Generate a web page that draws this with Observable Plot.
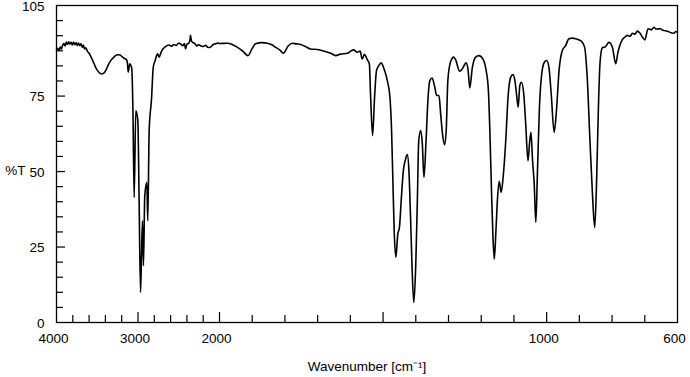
<!DOCTYPE html>
<html>
<head>
<meta charset="utf-8">
<script src="https://cdn.jsdelivr.net/npm/d3@7"></script>
<script src="https://cdn.jsdelivr.net/npm/@observablehq/plot@0.6"></script>
<style>
  html, body { margin: 0; padding: 0; background: #fff; }
  #chart { width: 690px; height: 377px; }
</style>
</head>
<body>
<div id="chart"></div>
<script>
// Wavenumber (cm-1), descending
const wavenumber = [
  4000,3985,3970,3955,3940,3925,3910,3895,3880,3865,3850,3835,3820,3805,3790,3775,3760,3745,3730,3715,
  3700,3685,3670,3655,3640,3620,3600,3570,3540,3510,3480,3450,3420,3390,3360,3330,3300,3280,3252,3220,
  3190,3169,3140,3130,3120,3101,3085,3076,3062,3047,3027,3002,2987,2969,2957,2945,2933,2917,2892,2880,
  2863,2834,2813,2789,2761,2740,2720,2700,2663,2620,2590,2561,2530,2500,2479,2450,2430,2417,2400,2377,
  2360,2356,2345,2328,2300,2280,2260,2233,2200,2170,2140,2110,2080,2049,2020,2000,1976,1960,1946,1930,
  1913,1900,1890,1870,1854,1840,1829,1815,1805,1790,1778,1765,1752,1735,1722,1700,1681,1660,1645,1630,
  1609,1599,1590,1579,1570,1564,1557,1548,1542,1538,1532,1526,1520,1513,1506,1498,1487,1479,1474,1470,
  1466,1461,1455,1450,1444,1438,1431,1426,1421,1416,1411,1406,1400,1395,1391,1385,1380,1375,1369,1363,
  1357,1350,1343,1336,1329,1324,1317,1312,1307,1302,1294,1284,1278,1266,1258,1246,1240,1235,1227,1217,
  1207,1195,1185,1178,1173,1168,1164,1160,1155,1150,1145,1139,1133,1125,1118,1110,1103,1097,1091,1087,
  1082,1077,1070,1064,1057,1052,1048,1043,1038,1033,1028,1022,1015,1007,1000,993,986,977,970,962,
  952,942,932,921,911,894,884,876,868,860,853,847,842,837,830,820,810,799,789,782,
  769,760,753,745,738,730,723,715,707,700,690,680,672,665,652,645,631,620,611,605,600
];
// Transmittance (%T)
const transmittance = [
  90.3,90.8,90.1,91.2,90.6,91.8,92.4,91.6,92.9,92.1,93.0,92.2,92.8,91.9,92.9,92.0,92.7,91.8,92.6,91.7,
  92.3,91.2,91.9,90.6,91.0,89.8,89.2,87.6,85.8,84.0,82.9,82.3,82.6,83.8,85.6,86.9,87.8,88.3,88.7,88.6,
  87.9,87.5,87.0,86.0,82.9,85.7,85.0,84.0,70.0,41.4,70.2,66.9,42.0,10.0,22.0,33.7,18.8,42.0,46.4,33.7,
  63.6,74.1,84.5,86.8,89.0,87.9,89.3,90.4,91.4,91.9,91.5,92.1,91.8,92.6,92.3,91.7,92.4,90.6,92.2,92.5,
  94.0,95.1,93.3,92.8,92.3,91.6,92.0,91.7,91.4,91.8,91.1,91.2,92.0,92.3,92.6,92.4,92.5,92.0,91.2,90.0,
  88.4,90.8,92.3,92.7,92.5,92.0,91.2,90.2,89.2,91.6,92.5,92.3,92.1,91.3,90.6,90.4,89.9,89.2,88.4,88.9,
  89.2,89.9,90.3,89.5,89.9,87.3,88.8,87.0,85.7,74.6,61.9,74.6,83.5,85.1,86.0,84.3,80.1,74.6,63.6,47.0,
  30.4,21.6,29.3,31.5,41.4,50.3,54.2,55.6,50.3,34.8,17.1,6.6,19.4,41.4,60.2,63.6,59.2,48.1,59.2,73.5,
  80.1,81.0,78.5,75.2,75.2,69.1,61.3,58.9,63.6,80.1,86.2,87.9,87.0,83.2,84.0,86.0,83.5,77.7,84.5,87.9,
  88.4,87.3,83.5,76.8,61.3,41.4,28.2,21.0,30.4,41.4,46.8,43.1,48.1,60.2,74.6,81.2,82.1,80.1,74.6,71.3,
  78.5,79.6,75.7,65.8,53.6,59.7,63.0,53.6,45.9,33.2,50.3,71.3,82.4,86.2,86.8,84.5,75.7,63.0,70.2,83.5,
  90.1,91.7,94.0,94.2,94.0,93.2,91.2,81.2,61.3,42.6,31.5,48.1,70.2,85.7,91.0,91.4,92.8,91.2,85.7,89.5,
  93.6,94.6,95.1,94.8,95.8,95.5,96.5,95.9,94.5,93.6,97.3,97.0,97.8,97.2,97.3,96.8,96.5,96.0,95.8,96.4,96.2
];

// Axis ticks
const xLabelTicks = [4000, 3000, 2000, 1000, 600];
const xMajorTicks = [3000, 2000, 1500, 1000];
const xMinorTicks = [3800, 3600, 3400, 3200, 2800, 2600, 2400, 2200,
                     1900, 1800, 1700, 1600, 1400, 1300, 1200, 1100, 900, 800, 700];
const yLabelTicks = [0, 25, 50, 75, 105];
const yMajorTicks = [25, 50, 75];
const yMinorTicks = [5, 10, 15, 20, 30, 35, 40, 45, 55, 60, 65, 70, 80, 85, 90, 95, 100];

const spectrum = wavenumber.map((w, i) => ({wn: w, t: transmittance[i]}));

const W = 690, H = 377;
const mL = 56, mR = 13, mT = 5, mB = 55;
const plotW = W - mL - mR, plotH = H - mT - mB;
const font = "'Liberation Sans', Arial, Helvetica, sans-serif";

const chart = Plot.plot({
  width: W,
  height: H,
  marginLeft: mL,
  marginRight: mR,
  marginTop: mT,
  marginBottom: mB,
  style: {fontFamily: font, fontSize: "13.5px", color: "#000", background: "#fff", overflow: "visible"},
  x: {type: "linear", domain: [4000, 2000, 600], range: [mL, 219, W - mR]},
  y: {domain: [0, 105]},
  marks: [
    Plot.tickX(xMinorTicks, {x: d => d, stroke: "#000", strokeWidth: 1.2, insetTop: plotH - 7}),
    Plot.tickX(xMajorTicks, {x: d => d, stroke: "#000", strokeWidth: 1.2, insetTop: plotH - 10}),
    Plot.tickY(yMinorTicks, {y: d => d, stroke: "#000", strokeWidth: 1.2, insetRight: plotW - 7}),
    Plot.tickY(yMajorTicks, {y: d => d, stroke: "#000", strokeWidth: 1.2, insetRight: plotW - 9}),
    Plot.line(spectrum, {x: "wn", y: "t", stroke: "#000", strokeWidth: 1.6, curve: "monotone-x"}),
    Plot.frame({stroke: "#000", strokeWidth: 1.3}),
    Plot.axisX({ticks: xLabelTicks, tickSize: 0, tickPadding: 11, tickFormat: d => String(d),
                fontSize: 13.5, dx: -3, label: null}),
    Plot.axisY({ticks: yLabelTicks, tickSize: 0, tickPadding: 12, tickFormat: d => String(d),
                fontSize: 13.5, dy: 1, label: null}),
    Plot.text(["Wavenumber [cm\u207B\u00B9]"], {frameAnchor: "bottom", lineAnchor: "middle", textAnchor: "middle",
                dy: 44, fontSize: 13.5, fill: "#000"}),
    Plot.text(["%T"], {frameAnchor: "left", textAnchor: "end", lineAnchor: "middle",
                dx: -31, dy: 7, fontSize: 13.5, fill: "#000"})
  ]
});
document.getElementById("chart").appendChild(chart);
</script>
</body>
</html>
